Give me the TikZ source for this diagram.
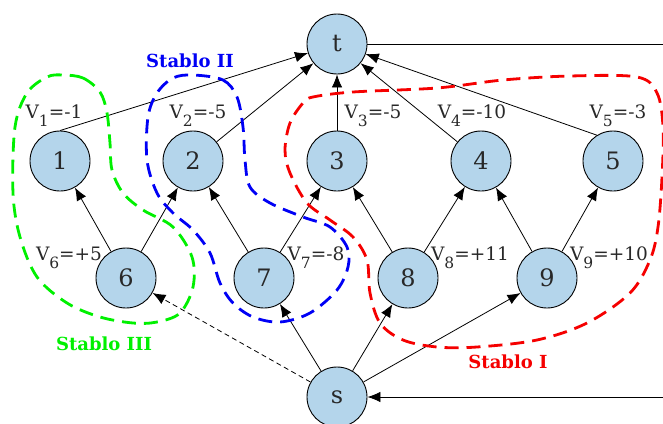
\documentclass[tikz,border=0pt]{standalone}
\usepackage{fontspec}
\setmainfont{DejaVu Serif}
\usetikzlibrary{arrows.meta}
\definecolor{nodefill}{RGB}{180,213,235}
\definecolor{txt}{RGB}{40,40,40}
\definecolor{grn}{RGB}{0,240,0}
\definecolor{blu}{RGB}{0,0,245}
\definecolor{rd}{RGB}{245,0,0}
\newcommand\vlab[2]{V\raisebox{-0.45em}{\fontsize{15.5}{15.5}\selectfont #1}=#2}
\tikzset{
  vert/.style={circle, draw=black, line width=0.9pt, fill=nodefill, minimum size=60pt, inner sep=0pt, text=txt, font=\fontsize{24}{24}\selectfont},
  vl/.style={anchor=base, inner sep=0pt, text=txt, font=\fontsize{18.5}{18.5}\selectfont},
  edge/.style={line width=0.8pt, -{Latex[length=13pt,width=10.5pt]}},
  group/.style={line width=2.8pt, dash pattern=on 14pt off 8pt},
  glab/.style={font=\bfseries\fontsize{18}{18}\selectfont, inner sep=0pt}
}
\begin{document}
\begin{tikzpicture}[x=1pt,y=-1pt]
\clip (0,0) rectangle (663,423);
\node[vert] (t) at (337,44) {t};
\node[vert] (n1) at (60,161) {1};
\node[vert] (n2) at (193,161) {2};
\node[vert] (n3) at (337,161) {3};
\node[vert] (n4) at (481,161) {4};
\node[vert] (n5) at (613,161) {5};
\node[vert] (n6) at (126,278) {6};
\node[vert] (n7) at (264,278) {7};
\node[vert] (n8) at (408,278) {8};
\node[vert] (n9) at (547,278) {9};
\node[vert] (s) at (337,397) {s};
\coordinate (tr) at (664,44);
\coordinate (sr) at (664,397);

\node[vl] (l1) at (54,118) {\vlab{1}{-1}};
\node[vl] (l2) at (198,118) {\vlab{2}{-5}};
\node[vl] (l3) at (373,118) {\vlab{3}{-5}};
\node[vl] (l4) at (472,118) {\vlab{4}{-10}};
\node[vl] (l5) at (618,118) {\vlab{5}{-3}};
\node[vl] (l6) at (69,260) {\vlab{6}{+5}};
\node[vl] (l7) at (316,260) {\vlab{7}{-8}};
\node[vl] (l8) at (470,260) {\vlab{8}{+11}};
\node[vl] (l9) at (609,260) {\vlab{9}{+10}};

\draw[edge] (n1.north) -- (t);
\draw[edge] (n2) -- (t);
\draw[edge] (n3) -- (t);
\draw[edge] (n4) -- (t);
\draw[edge] (n5.122) -- (t);
\draw[edge] (n6) -- (n1);
\draw[edge] (n6) -- (n2);
\draw[edge] (n7) -- (n2);
\draw[edge] (n7) -- (n3);
\draw[edge] (n8) -- (n3);
\draw[edge] (n8) -- (n4);
\draw[edge] (n9) -- (n4);
\draw[edge] (n9) -- (n5);
\draw[edge] (s) -- (n7);
\draw[edge] (s) -- (n8);
\draw[edge] (s) -- (n9);
\draw[edge, dash pattern=on 5pt off 3.5pt] (s) -- (n6);
\draw[line width=0.9pt] (t) -- (tr);
\draw[edge] (sr) -- (s);

\draw[group, grn] plot[smooth cycle, tension=0.55] coordinates {
 (63,75) (83,78) (100,92) (107,113) (110,143) (112,170) (123,193) (143,210) (173,227) (192,257) (193,287) (180,313) (157,322) (133,323) (100,317) (67,303) (37,277) (20,237) (13,193) (15,127) (27,93) (47,77)};
\draw[group, blu] plot[smooth cycle, tension=0.55] coordinates {
 (193,75) (223,80) (237,97) (243,127) (245,160) (250,187) (270,203) (303,217) (330,227) (347,247) (348,267) (337,290) (310,313) (280,322) (253,317) (233,303) (220,283) (210,253) (193,230) (173,213) (157,193) (147,160) (148,117) (157,93) (173,78)};
\draw[group, rd] plot[smooth cycle, tension=0.55] coordinates {
 (313,97) (353,92) (437,88) (503,80) (570,76) (637,77) (657,93) (663,127) (662,177) (658,227) (650,260) (630,293) (587,323) (537,340) (477,347) (437,347) (403,340) (380,323) (370,293) (367,260) (353,237) (330,220) (307,203) (290,173) (285,150) (290,123) (303,103)};

\node[glab, blu] (g2) at (190,61) {Stablo II};
\node[glab, grn] (g3) at (104,344) {Stablo III};
\node[glab, rd] (g1) at (508,362) {Stablo I};
\end{tikzpicture}
\end{document}
